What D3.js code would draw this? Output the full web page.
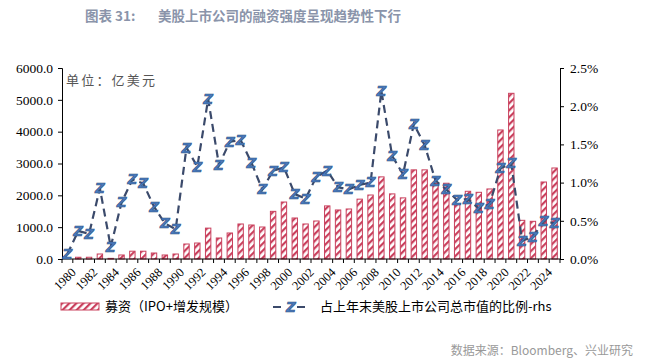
<!DOCTYPE html>
<html>
<head>
<meta charset="utf-8">
<script src="https://cdn.jsdelivr.net/npm/d3@7"></script>
<style>
  body { margin: 0; background: #fff; }
  svg { display: block; }
</style>
</head>
<body>
<div id="chart"></div>
<script>
// years on the category axis
const years = d3.range(1980, 2026).map(String);

// 募资（IPO+增发规模），亿美元
const raised = [
  0, 55, 55, 157, 20, 126, 245, 245, 188, 126,
  157, 471, 502, 970, 660, 817, 1100, 1068, 1005, 1497,
  1790, 1288, 1100, 1194, 1668, 1540, 1571, 1880, 2010, 2580,
  2045, 1920, 2800, 2800, 2370, 2380, 1730, 2127, 2095, 2200,
  4053, 5205, 1215, 1184, 2419, 2859
];

// 占上年末美股上市公司总市值的比例（%），右轴
const ratio = [
  0.065, 0.366, 0.33, 0.925, 0.16, 0.74, 1.04, 0.99, 0.685, 0.467,
  0.39, 1.457, 1.208, 2.094, 1.23, 1.535, 1.557, 1.26, 0.91, 1.156,
  1.2, 0.85, 0.79, 1.077, 1.156, 0.94, 0.91, 0.97, 1.0, 2.2,
  1.348, 1.11, 1.767, 1.49, 1.025, 0.91, 0.77, 0.785, 0.66, 0.72,
  1.187, 1.25, 0.24, 0.29, 0.50, 0.467
];

const leftTicks = [0, 1000, 2000, 3000, 4000, 5000, 6000];
const rightTicks = [0, 0.5, 1.0, 1.5, 2.0, 2.5];

const W = 653, H = 362;
const margin = { top: 68, right: 93, bottom: 103, left: 62 };
const width = W - margin.left - margin.right;
const height = H - margin.top - margin.bottom;

const barRed = '#c9405d';
const lineColor = '#3b4a6b';
const zColor = '#4a7cbf';
const serif = '"Liberation Serif", "DejaVu Serif", serif';
const cjk = '"Noto Sans CJK SC", sans-serif';

const root = d3.select('#chart').append('svg')
  .attr('width', W)
  .attr('height', H);

// hatch pattern for the bars
const defs = root.append('defs');
const pat = defs.append('pattern')
  .attr('id', 'hatch')
  .attr('patternUnits', 'userSpaceOnUse')
  .attr('width', 5)
  .attr('height', 5)
  .attr('patternTransform', 'rotate(-45)');
pat.append('rect').attr('width', 5).attr('height', 5).attr('fill', '#fff');
pat.append('rect').attr('width', 5).attr('height', 2.2).attr('fill', barRed);

// title
root.append('text')
  .attr('x', 85).attr('y', 21)
  .style('font-family', cjk).style('font-size', '13.5px').style('font-weight', 'bold')
  .style('fill', '#8a94aa')
  .text('图表 31:');
root.append('text')
  .attr('x', 158).attr('y', 21)
  .style('font-family', cjk).style('font-size', '13.5px').style('font-weight', 'bold')
  .style('fill', '#8a94aa')
  .text('美股上市公司的融资强度呈现趋势性下行');

const svg = root.append('g')
  .attr('transform', `translate(${margin.left},${margin.top})`);

// scales
const x = d3.scaleBand().domain(years).range([0, width]).paddingInner(0).paddingOuter(0);
const y = d3.scaleLinear().domain([0, 6000]).range([height, 0]);
const y2 = d3.scaleLinear().domain([0, 2.5]).range([height, 0]);

const barW = 5.4;

// bars
svg.selectAll('.bar')
  .data(raised)
  .enter().append('rect')
  .attr('class', 'bar')
  .attr('x', (d, i) => x(years[i]) + (x.bandwidth() - barW) / 2)
  .attr('width', barW)
  .attr('y', d => y(d))
  .attr('height', d => height - y(d))
  .attr('fill', 'url(#hatch)')
  .attr('stroke', barRed)
  .attr('stroke-width', 1);

// left axis
const yAxis = svg.append('g')
  .call(d3.axisLeft(y).tickValues(leftTicks).tickSize(4).tickFormat(d3.format('.1f')));
yAxis.selectAll('text')
  .style('font-family', serif).style('font-size', '13.5px').style('fill', '#000')
  .attr('x', -9);
yAxis.selectAll('line, path').attr('stroke', '#000');

// right axis
const yAxis2 = svg.append('g')
  .attr('transform', `translate(${width},0)`)
  .call(d3.axisRight(y2).tickValues(rightTicks).tickSize(4).tickFormat(d => d3.format('.1f')(d) + '%'));
yAxis2.selectAll('text')
  .style('font-family', serif).style('font-size', '13.5px').style('fill', '#000')
  .attr('x', 10);
yAxis2.selectAll('line, path').attr('stroke', '#000');

// x axis: baseline, boundary ticks, rotated labels every 2 years
const xAxis = svg.append('g').attr('transform', `translate(0,${height})`);
xAxis.append('line')
  .attr('x1', 0).attr('x2', width)
  .attr('stroke', '#000');
xAxis.selectAll('.tick-b')
  .data(years.concat(['end']))
  .enter().append('line')
  .attr('x1', (d, i) => i * x.bandwidth())
  .attr('x2', (d, i) => i * x.bandwidth())
  .attr('y1', 0).attr('y2', 4)
  .attr('stroke', '#000');
xAxis.selectAll('.xlab')
  .data(years.filter((d, i) => i % 2 === 0))
  .enter().append('text')
  .attr('transform', d => `translate(${x(d) + x.bandwidth() / 2 + 3},${8}) rotate(-45)`)
  .attr('text-anchor', 'end')
  .attr('dy', '0.7em')
  .style('font-family', serif).style('font-size', '12.5px')
  .text(d => d);

// ratio line (dashed)
const line = d3.line()
  .x((d, i) => x(years[i]) + x.bandwidth() / 2)
  .y(d => y2(d));
svg.append('path')
  .datum(ratio)
  .attr('d', line)
  .attr('fill', 'none')
  .attr('stroke', lineColor)
  .attr('stroke-width', 2.2)
  .attr('stroke-dasharray', '8,5');

// Z markers
function zMark(sel) {
  sel.append('text')
    .attr('text-anchor', 'middle')
    .attr('dy', '0.36em')
    .style('font-family', '"DejaVu Sans", sans-serif')
    .style('font-size', '13.5px')
    .style('font-weight', 'bold')
    .style('font-style', 'italic')
    .style('fill', zColor)
    .style('stroke', '#2f4f80')
    .style('stroke-width', 0.6)
    .text('Z');
}
svg.selectAll('.pt')
  .data(ratio)
  .enter().append('g')
  .attr('class', 'pt')
  .attr('transform', (d, i) => `translate(${x(years[i]) + x.bandwidth() / 2},${y2(d)})`)
  .call(zMark);

// unit label
svg.append('text')
  .attr('x', 4).attr('y', 17)
  .style('font-family', cjk).style('font-size', '13px').style('fill', '#555')
  .style('letter-spacing', '2.2px')
  .text('单位：亿美元');

// legend
const leg = root.append('g').attr('transform', 'translate(61,303)');
leg.append('rect')
  .attr('x', 0).attr('y', 0).attr('width', 38).attr('height', 7)
  .attr('fill', 'url(#hatch)').attr('stroke', barRed);
leg.append('text')
  .attr('x', 44).attr('y', 8)
  .style('font-family', cjk).style('font-size', '13px')
  .text('募资（IPO+增发规模）');
leg.append('line')
  .attr('x1', 212).attr('x2', 252).attr('y1', 4).attr('y2', 4)
  .attr('stroke', lineColor).attr('stroke-width', 2.2).attr('stroke-dasharray', '8,16');
leg.append('g').attr('transform', 'translate(230,4)').call(zMark);
leg.append('text')
  .attr('x', 259).attr('y', 8)
  .style('font-family', cjk).style('font-size', '13px')
  .text('占上年末美股上市公司总市值的比例-rhs');

// source
root.append('text')
  .attr('x', 633).attr('y', 355)
  .attr('text-anchor', 'end')
  .style('font-family', cjk).style('font-size', '12px').style('fill', '#999')
  .text('数据来源：Bloomberg、兴业研究');
</script>
</body>
</html>
